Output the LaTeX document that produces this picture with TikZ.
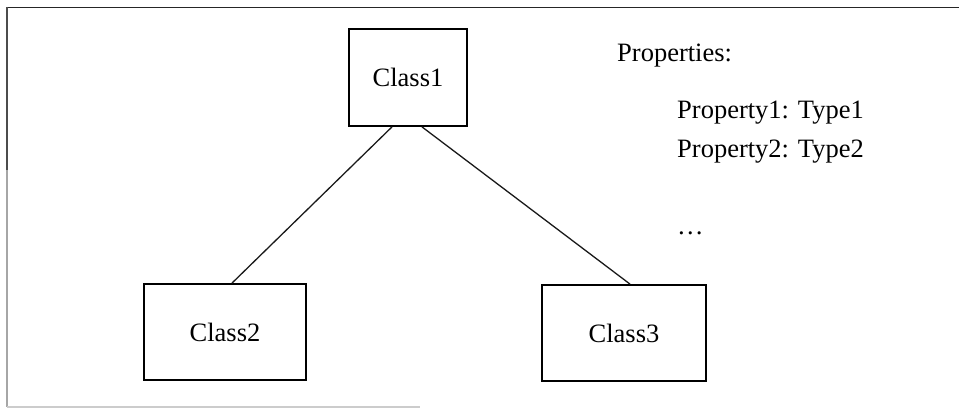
\documentclass[tikz,border=0pt]{standalone}
\usepackage{fontspec}
\setmainfont{Liberation Serif}
\begin{document}
\begin{tikzpicture}[x=1pt,y=1pt,
  classbox/.style={draw=black,line width=1.8pt,minimum width=162pt,minimum height=96pt,inner sep=0pt,font=\fontsize{26.5}{30}\selectfont},
  link/.style={draw=black!90,line width=1.3pt},
  proptext/.style={anchor=base west,inner sep=0pt,font=\fontsize{26.5}{30}\selectfont}]
\useasboundingbox (0,0) rectangle (959,409);
% frame edges
\draw[black!85,line width=1.6pt] (7,401.5) -- (959,401.5);
\draw[black!70,line width=1.4pt] (7,402) -- (7,239);
\draw[black!35,line width=1.4pt] (7,239) -- (7,2);
\draw[black!20,line width=1.2pt] (7,2) -- (420,2);
% classes
\node[classbox,minimum width=118pt,minimum height=97pt] (c1) at (408,331.5) {Class1};
\node[classbox] (c2) at (225,77) {Class2};
\node[classbox,minimum width=164pt] (c3) at (624,76) {Class3};
% associations
\draw[link] ([xshift=-16pt]c1.south) -- ([xshift=7pt]c2.north);
\draw[link] ([xshift=14pt]c1.south) -- ([xshift=6pt]c3.north);
% property list
\node[proptext] (ph) at (617,347) {Properties:};
\node[proptext] (p1) at (677,290) {Property1: Type1};
\node[proptext] (p2) at (677,251) {Property2: Type2};
\node[proptext] (pd) at (677,174) {\dots};
\end{tikzpicture}
\end{document}
